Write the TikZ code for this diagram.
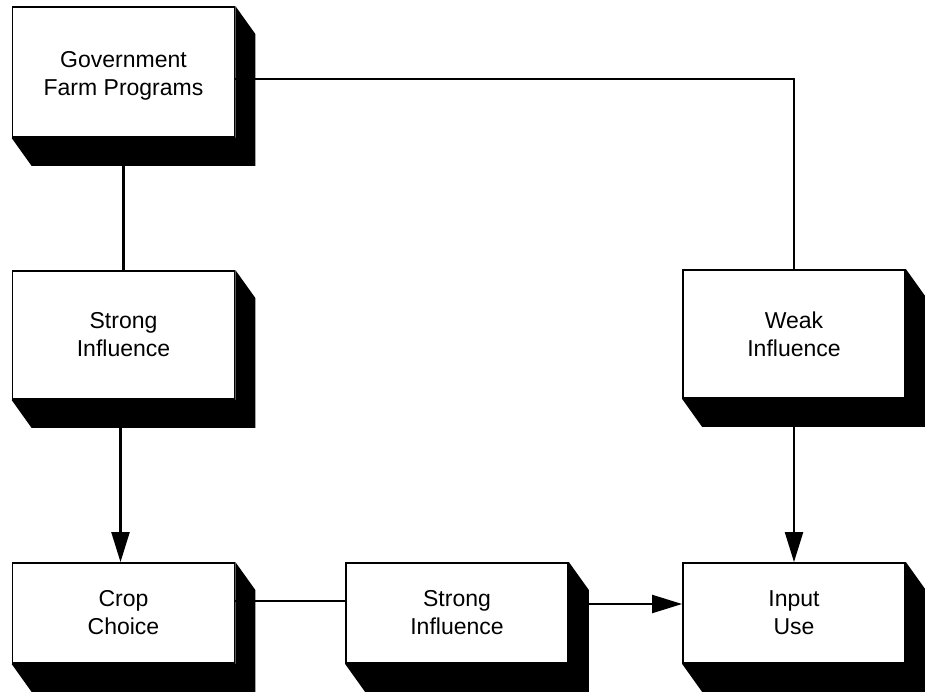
\documentclass[tikz,border=0pt]{standalone}
\usepackage{fontspec}
\setmainfont{Liberation Sans}
\usetikzlibrary{arrows.meta,calc}
\tikzset{
  box/.style={draw=black, line width=1.8pt, fill=white, minimum width=222pt, inner sep=0pt, align=center, font=\fontsize{23}{28}\selectfont},
  txt/.style={inner sep=0pt, align=center, font=\fontsize{23}{28}\selectfont},
  conn/.style={draw=black, line width=2.2pt},
  arr/.style={conn, -{Triangle[length=30pt,width=18pt]}}
}
\newcommand{\boxshadow}[1]{%
  \fill[black] (#1.north east) -- ++(20,28) -- ($(#1.south east)+(20,28)$) -- ($(#1.south west)+(20,28)$) -- (#1.south west) -- (#1.south east) -- cycle;}
\begin{document}
\begin{tikzpicture}[x=1pt,y=-1pt]
\useasboundingbox (0,0) rectangle (925,692);
\fill[white] (0,0) rectangle (925,692);
\node[box, minimum height=130pt] (gov) at (123.5,72) {};
\node[txt] (govtxt) at ($(gov.center)+(0,4)$) {Government\\Farm Programs};
\node[box, minimum height=128pt] (s1) at (123.5,335) {Strong\\Influence};
\node[box, minimum height=128pt] (weak) at (794,334) {Weak\\Influence};
\node[box, minimum height=100pt] (crop) at (123.5,613) {Crop\\Choice};
\node[box, minimum height=100pt] (s2) at (457,613) {Strong\\Influence};
\node[box, minimum height=100pt] (input) at (794,613) {Input\\Use};
\foreach \n in {gov,s1,weak,crop,s2,input} {\boxshadow{\n}}
\draw[conn] ($(gov.east)+(0,7)$) -| (weak.north);
\draw[conn] (gov.south) -- (s1.north);
\draw[arr] ($(s1.south)+(-3,0)$) -- ($(crop.north)+(-3,0)$);
\draw[arr] (weak.south) -- (input.north);
\draw[conn] ($(crop.east)+(0,-12)$) -- ($(s2.west)+(0,-12)$);
\draw[arr] ($(s2.east)+(0,-9)$) -- ($(input.west)+(0,-9)$);
\end{tikzpicture}
\end{document}
